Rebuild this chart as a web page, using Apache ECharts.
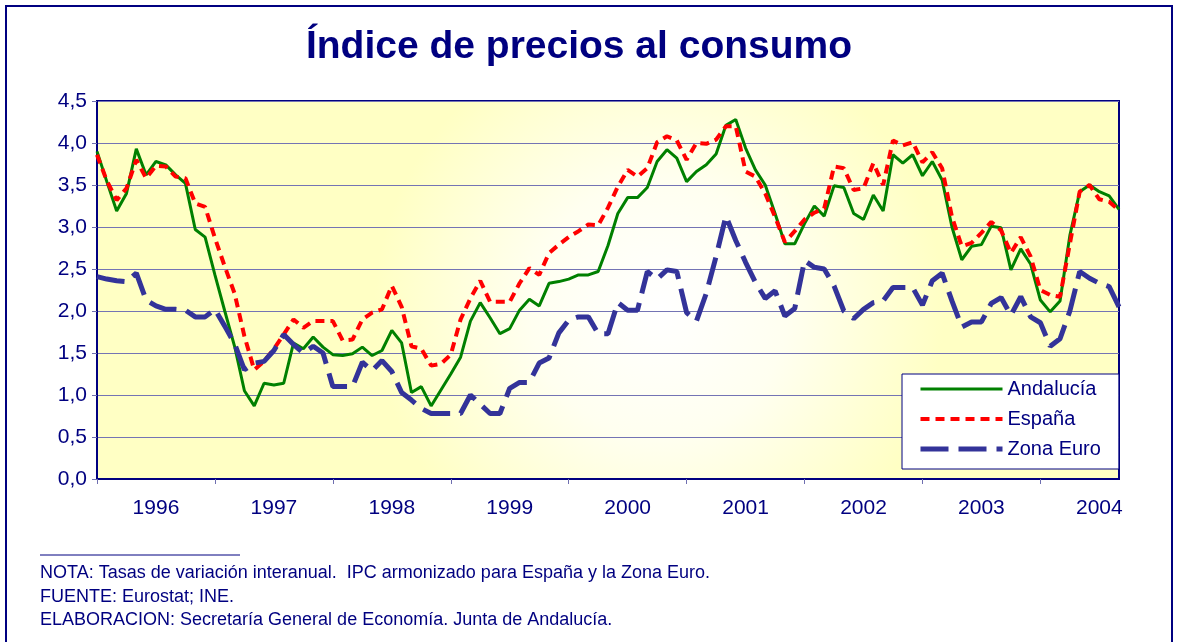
<!DOCTYPE html>
<html>
<head>
<meta charset="utf-8">
<title>Índice de precios al consumo</title>
<script src="https://cdn.jsdelivr.net/npm/echarts@6/dist/echarts.min.js"></script>
<style>
  html, body { margin: 0; padding: 0; background: #fff; }
  #chart { width: 1179px; height: 642px; }
</style>
</head>
<body>
<div id="chart"></div>
<script>
// años del eje (una etiqueta por año, datos mensuales ene-1996 .. sep-2004)
const years = ['1996', '1997', '1998', '1999', '2000', '2001', '2002', '2003', '2004']
const monthCount = 105

// tasas de variación interanual (%)
const andalucia = [
  3.90, 3.54, 3.19, 3.40, 3.93, 3.62, 3.78, 3.74, 3.62, 3.52, 2.97, 2.88,
  2.43, 2.00, 1.58, 1.05, 0.87, 1.14, 1.12, 1.14, 1.62, 1.55, 1.69, 1.57,
  1.48, 1.47, 1.49, 1.57, 1.47, 1.53, 1.77, 1.62, 1.03, 1.10, 0.87, 1.06,
  1.25, 1.45, 1.88, 2.10, 1.92, 1.73, 1.79, 2.01, 2.14, 2.06, 2.33, 2.35,
  2.38, 2.43, 2.43, 2.47, 2.78, 3.16, 3.35, 3.35, 3.47, 3.78, 3.92, 3.82,
  3.54, 3.66, 3.74, 3.87, 4.21, 4.28, 3.94, 3.68, 3.50, 3.16, 2.80, 2.80,
  3.04, 3.25, 3.13, 3.49, 3.47, 3.16, 3.09, 3.38, 3.19, 3.86, 3.76, 3.86,
  3.61, 3.78, 3.56, 3.00, 2.61, 2.77, 2.79, 3.01, 2.99, 2.49, 2.74, 2.56,
  2.13, 1.99, 2.12, 2.90, 3.42, 3.50, 3.42, 3.37, 3.21
]
const espana = [
  3.86, 3.55, 3.32, 3.46, 3.80, 3.58, 3.73, 3.72, 3.60, 3.58, 3.28, 3.24,
  2.87, 2.53, 2.21, 1.70, 1.30, 1.40, 1.55, 1.72, 1.90, 1.80, 1.88, 1.88,
  1.88, 1.65, 1.66, 1.90, 1.98, 2.02, 2.30, 2.05, 1.58, 1.55, 1.35, 1.37,
  1.48, 1.90, 2.15, 2.36, 2.11, 2.11, 2.11, 2.33, 2.51, 2.43, 2.69, 2.79,
  2.88, 2.95, 3.03, 3.02, 3.23, 3.48, 3.68, 3.60, 3.70, 4.01, 4.08, 4.03,
  3.80, 4.00, 3.99, 4.04, 4.20, 4.20, 3.66, 3.60, 3.40, 3.12, 2.82, 2.95,
  3.09, 3.17, 3.22, 3.72, 3.70, 3.44, 3.46, 3.76, 3.50, 4.03, 3.97, 4.01,
  3.77, 3.89, 3.70, 3.12, 2.77, 2.81, 2.93, 3.06, 2.96, 2.69, 2.88, 2.65,
  2.25, 2.19, 2.17, 2.80, 3.42, 3.50, 3.33, 3.30, 3.20
]
const zonaEuro = [
  2.41, 2.38, 2.36, 2.35, 2.45, 2.13, 2.06, 2.02, 2.02, 2.01, 1.93, 1.93,
  2.02, 1.82, 1.61, 1.30, 1.38, 1.40, 1.53, 1.72, 1.60, 1.50, 1.58, 1.50,
  1.10, 1.10, 1.10, 1.39, 1.29, 1.41, 1.28, 1.03, 0.94, 0.84, 0.78, 0.78,
  0.78, 0.78, 1.00, 0.89, 0.78, 0.78, 1.08, 1.15, 1.15, 1.38, 1.44, 1.74,
  1.89, 1.93, 1.93, 1.73, 1.73, 2.10, 2.01, 2.01, 2.47, 2.38, 2.49, 2.47,
  1.98, 1.88, 2.21, 2.65, 3.13, 2.84, 2.58, 2.34, 2.15, 2.24, 1.94, 2.03,
  2.60, 2.52, 2.50, 2.30, 2.00, 1.91, 2.02, 2.10, 2.12, 2.28, 2.28, 2.28,
  2.07, 2.36, 2.45, 2.12, 1.81, 1.87, 1.87, 2.09, 2.16, 1.95, 2.17, 1.93,
  1.86, 1.58, 1.67, 2.00, 2.47, 2.39, 2.33, 2.29, 2.05
]

const notes = [
  'NOTA: Tasas de variación interanual.  IPC armonizado para España y la Zona Euro.',
  'FUENTE: Eurostat; INE.',
  'ELABORACION: Secretaría General de Economía. Junta de Andalucía.'
]

const navy = '#000080'
const font = 'Arial, "Liberation Sans", sans-serif'

const categories = []
for (let i = 0; i < monthCount; i++) {
  const y = years[Math.floor(i / 12)]
  const m = (i % 12) + 1
  categories.push(y + '-' + (m < 10 ? '0' + m : m))
}

const chart = echarts.init(document.getElementById('chart'), null, { renderer: 'canvas' })

chart.setOption({
  animation: false,
  backgroundColor: '#ffffff',
  textStyle: { fontFamily: font },
  grid: {
    left: 97,
    right: 60,
    top: 101,
    bottom: 163,
    show: true,
    borderColor: navy,
    borderWidth: 2,
    backgroundColor: new echarts.graphic.RadialGradient(0.55, 0.55, 0.75, [
      { offset: 0, color: '#ffffff' },
      { offset: 0.45, color: '#fffff0' },
      { offset: 1, color: '#ffffc4' }
    ])
  },
  legend: {
    orient: 'vertical',
    left: 902,
    top: 374,
    padding: [5, 18, 10, 16],
    itemWidth: 82,
    itemHeight: 14,
    itemGap: 10,
    backgroundColor: '#ffffff',
    borderColor: navy,
    borderWidth: 1,
    itemStyle: { opacity: 0 },
    lineStyle: { width: 'inherit' },
    textStyle: { color: navy, fontSize: 20, fontFamily: font },
    data: ['Andalucía', 'España', 'Zona Euro']
  },
  xAxis: {
    type: 'category',
    data: categories,
    boundaryGap: false,
    axisLine: { lineStyle: { color: navy, width: 2 } },
    axisTick: {
      show: true,
      interval: function (i) { return i % 12 === 0 },
      length: 5,
      lineStyle: { color: '#6f6fb0', width: 1 }
    },
    axisLabel: {
      interval: function (i) { return i % 12 === 6 },
      formatter: function (v) { return v.slice(0, 4) },
      color: navy,
      fontSize: 21,
      margin: 19,
      fontFamily: font
    },
    splitLine: { show: false }
  },
  yAxis: {
    type: 'value',
    min: 0,
    max: 4.5,
    interval: 0.5,
    axisLine: { show: true, lineStyle: { color: navy, width: 2 } },
    axisTick: { show: true, length: 5, lineStyle: { color: '#6f6fb0' } },
    axisLabel: {
      color: navy,
      fontSize: 21,
      margin: 10,
      fontFamily: font,
      formatter: function (v) { return v.toFixed(1).replace('.', ',') }
    },
    splitLine: { lineStyle: { color: '#7474b4', width: 1 } }
  },
  series: [
    {
      name: 'Andalucía',
      type: 'line',
      data: andalucia,
      symbol: 'none',
      lineStyle: { color: '#008000', width: 3 },
      itemStyle: { color: '#008000' }
    },
    {
      name: 'España',
      type: 'line',
      data: espana,
      symbol: 'none',
      lineStyle: { color: '#ff0000', width: 4, type: [9, 6] },
      itemStyle: { color: '#ff0000' }
    },
    {
      name: 'Zona Euro',
      type: 'line',
      data: zonaEuro,
      symbol: 'none',
      lineStyle: { color: '#333399', width: 5, type: [28, 10] },
      itemStyle: { color: '#333399' }
    }
  ],
  graphic: [
    {
      type: 'rect',
      shape: { x: 6, y: 6, width: 1166, height: 660 },
      style: { fill: 'none', stroke: navy, lineWidth: 2 },
      silent: true
    },
    {
      type: 'text',
      x: 579,
      y: 47,
      style: {
        text: 'Índice de precios al consumo',
        fill: navy,
        font: 'bold 39px ' + font,
        textAlign: 'center',
        textVerticalAlign: 'middle'
      }
    },
    {
      type: 'line',
      shape: { x1: 40, y1: 555, x2: 240, y2: 555 },
      style: { stroke: navy, lineWidth: 1 }
    },
    {
      type: 'text',
      x: 40,
      y: 573,
      style: { text: notes[0], fill: navy, font: '18px ' + font, textVerticalAlign: 'middle' }
    },
    {
      type: 'text',
      x: 40,
      y: 597,
      style: { text: notes[1], fill: navy, font: '18px ' + font, textVerticalAlign: 'middle' }
    },
    {
      type: 'text',
      x: 40,
      y: 620,
      style: { text: notes[2], fill: navy, font: '18px ' + font, textVerticalAlign: 'middle' }
    }
  ]
})
</script>
</body>
</html>
